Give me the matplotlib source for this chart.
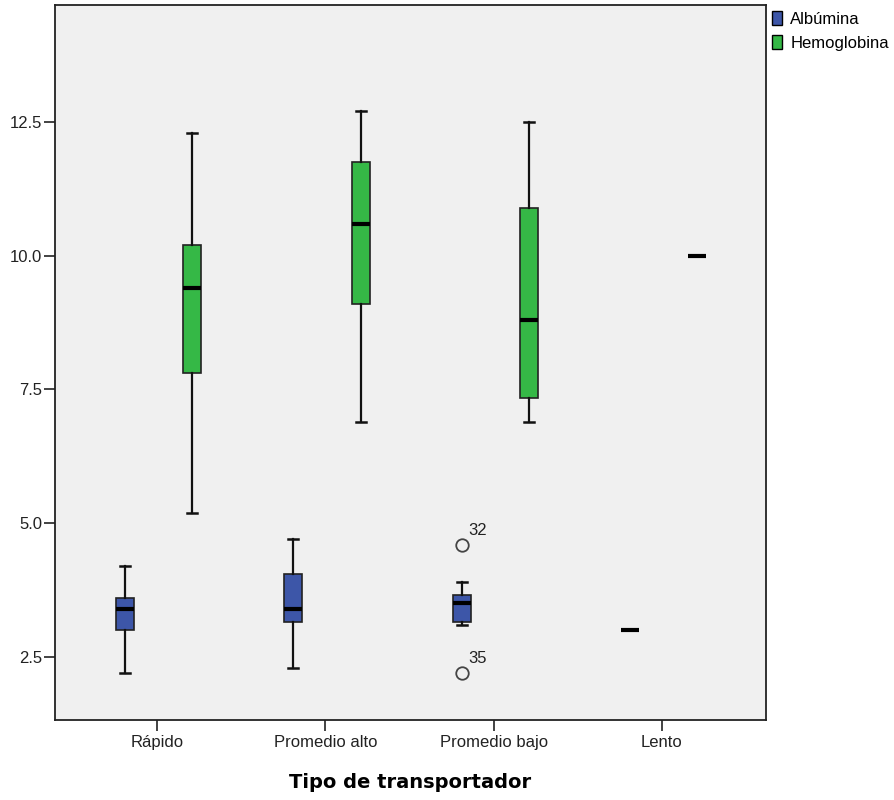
import matplotlib
matplotlib.use("Agg")
import matplotlib.pyplot as plt
import matplotlib.patches as mpatches

# Category labels and series names
categories = ["Rápido", "Promedio alto", "Promedio bajo", "Lento"]
series = ["Albúmina", "Hemoglobina"]

# Box statistics per category: (whislo, q1, med, q3, whishi)
albumina = [
    (2.2, 3.0, 3.4, 3.6, 4.2),
    (2.3, 3.15, 3.4, 4.05, 4.7),
    (3.1, 3.15, 3.5, 3.65, 3.9),
    (3.0, 3.0, 3.0, 3.0, 3.0),
]
hemoglobina = [
    (5.2, 7.8, 9.4, 10.2, 12.3),
    (6.9, 9.1, 10.6, 11.75, 12.7),
    (6.9, 7.35, 8.8, 10.9, 12.5),
    (10.0, 10.0, 10.0, 10.0, 10.0),
]
# Outliers: (category index, value, case label) for Albúmina
alb_outliers = [(2, 4.6, "32"), (2, 2.2, "35")]

yticks = [2.5, 5.0, 7.5, 10.0, 12.5]

COLORS = {"Albúmina": "#3d56a8", "Hemoglobina": "#35b846"}
TEXT = "#222222"
FONT = "Liberation Sans"

fig = plt.figure(figsize=(8.94, 8.0), dpi=100)
ax = fig.add_axes([0.0615, 0.1, 0.7953, 0.89375])
ax.set_facecolor("#f0f0f0")

offset = 0.2
width = 0.107


def make_stats(rows, fliers_for):
    out = []
    for i, (lo, q1, med, q3, hi) in enumerate(rows):
        out.append({"whislo": lo, "q1": q1, "med": med, "q3": q3, "whishi": hi,
                    "fliers": fliers_for(i)})
    return out


alb_stats = make_stats(albumina, lambda i: [v for c, v, _ in alb_outliers if c == i])
hem_stats = make_stats(hemoglobina, lambda i: [])

for stats, name, sign in [(alb_stats, "Albúmina", -1), (hem_stats, "Hemoglobina", 1)]:
    positions = [i + 1.01 + sign * offset for i in range(len(categories))]
    ax.bxp(stats, positions=positions, widths=width, capwidths=0.06,
           patch_artist=True, manage_ticks=False,
           boxprops=dict(facecolor=COLORS[name], edgecolor="#222222", linewidth=1.2),
           whiskerprops=dict(color="#111111", linewidth=1.6),
           capprops=dict(color="#111111", linewidth=1.8),
           medianprops=dict(color="black", linewidth=3),
           flierprops=dict(marker="o", markersize=9, markerfacecolor="none",
                           markeredgecolor="#444444", markeredgewidth=1.3))

for c, v, lab in alb_outliers:
    ax.annotate(lab, (c + 1.01 - offset, v), xytext=(5, 7), textcoords="offset points",
                fontsize=12, color=TEXT, family=FONT)

ax.set_xlim(0.394, 4.618)
ax.set_ylim(1.322, 14.687)
ax.set_xticks(range(1, len(categories) + 1))
ax.set_xticklabels(categories, family=FONT, fontsize=12, color=TEXT)
ax.set_yticks(yticks)
ax.set_yticklabels([f"{t:.1f}" for t in yticks], family=FONT, fontsize=12, color=TEXT)
ax.tick_params(axis="both", direction="out", length=8, width=1.2, color="#222222")
ax.tick_params(axis="x", pad=3)
ax.tick_params(axis="y", pad=1)
for s in ax.spines.values():
    s.set_color("#222222")
    s.set_linewidth(1.3)

ax.set_xlabel("Tipo de transportador", family="DejaVu Sans", fontsize=14,
              fontweight="bold", color="black", labelpad=16)

handles = [mpatches.Patch(facecolor=COLORS[n], edgecolor="black", linewidth=1, label=n)
           for n in series]
fig.legend(handles=handles, loc="upper left", bbox_to_anchor=(0.856, 0.994),
           frameon=False, handlelength=0.6, handleheight=0.85, handletextpad=0.5,
           labelspacing=0.5, borderaxespad=0.2, borderpad=0.2,
           prop={"family": FONT, "size": 12})

fig.savefig("out.png", dpi=100, facecolor="white")
